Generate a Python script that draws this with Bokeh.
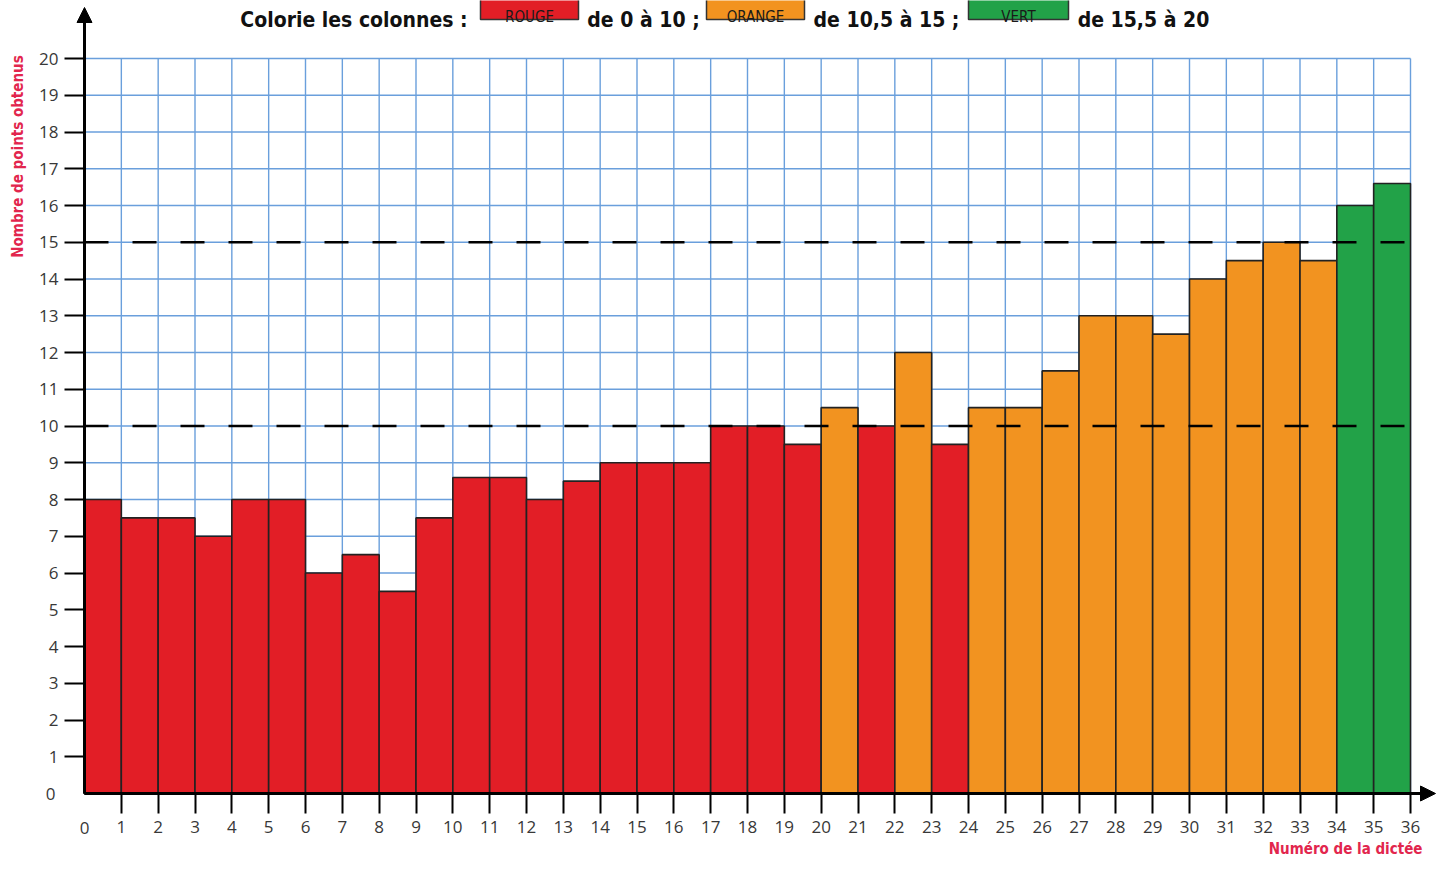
import math
from bokeh.plotting import figure
from bokeh.models import (ColumnDataSource, FixedTicker, Arrow, NormalHead, Range1d)
from bokeh.core.properties import value
from bokeh.embed import file_html
from bokeh.resources import INLINE

# ---- data ----
dictees = list(range(1, 37))
points = [8, 7.5, 7.5, 7, 8, 8, 6, 6.5, 5.5, 7.5,
          8.6, 8.6, 8, 8.5, 9, 9, 9, 10, 10, 9.5,
          10.5, 10, 12, 9.5, 10.5, 10.5, 11.5, 13, 13, 12.5,
          14, 14.5, 15, 14.5, 16, 16.6]
x_ticks = list(range(1, 37))
y_ticks = list(range(1, 21))
grid_x = list(range(0, 37))
grid_y = list(range(0, 21))
thresholds = [10, 15]
title_texts = ["Colorie les colonnes :", "de 0 à 10 ;", "de 10,5 à 15 ;", "de 15,5 à 20"]
box_texts = ["ROUGE", "ORANGE", "VERT"]
x_label = "Numéro de la dictée"
y_label = "Nombre de points obtenus"

RED, ORANGE, GREEN = "#e21e26", "#f29320", "#22a248"
box_colors = [RED, ORANGE, GREEN]


def colour(v):
    if v <= 10:
        return RED
    if v <= 15:
        return ORANGE
    return GREEN


# ---- pixel geometry helpers (layout only) ----
W, H = 1436, 856
X0PX, X36PX = 84, 1410
Y0PX, Y20PX = 793, 58
ux = (X36PX - X0PX) / 36.0
uy = (Y0PX - Y20PX) / 20.0


def dx(px):
    return (px - X0PX) / ux


def dy(py):
    return (Y0PX - py) / uy


p = figure(width=W, height=H, output_backend="svg", toolbar_location=None,
           x_range=Range1d(dx(0), dx(W)), y_range=Range1d(dy(H), dy(0)),
           min_border=0, min_border_left=0, min_border_right=0,
           min_border_top=0, min_border_bottom=0)
p.outline_line_color = None
p.background_fill_color = "white"
p.border_fill_color = "white"
p.xgrid.visible = False
p.ygrid.visible = False

XMAX, YMAX = max(grid_x), max(grid_y)

# grid
GRID_COL = "#6a9fdc"
p.segment(x0=grid_x, x1=grid_x, y0=[0] * len(grid_x), y1=[YMAX] * len(grid_x),
          line_color=GRID_COL, line_width=1.4)
p.segment(x0=[0] * len(grid_y), x1=[XMAX] * len(grid_y), y0=grid_y, y1=grid_y,
          line_color=GRID_COL, line_width=1.4)

# bars
src = ColumnDataSource(dict(
    left=[d - 1 for d in dictees],
    right=dictees,
    top=points,
    bottom=[0] * len(points),
    color=[colour(v) for v in points],
))
p.quad(left="left", right="right", top="top", bottom="bottom", source=src,
       fill_color="color", line_color="#222222", line_width=1.6)

# threshold lines
p.segment(x0=[0] * len(thresholds), x1=[XMAX] * len(thresholds),
          y0=thresholds, y1=thresholds, line_color="black",
          line_width=2.6, line_dash="24 24")

# axes at data 0
TICK_FONT = "Open Sans"
TICK_COL = "#383838"
for ax in (p.xaxis, p.yaxis):
    ax.fixed_location = 0
    ax.axis_line_width = 3
    ax.axis_line_color = "black"
    ax.major_tick_line_width = 2
    ax.major_tick_line_color = "black"
    ax.minor_tick_line_color = None
    ax.major_tick_in = 0
    ax.major_tick_out = 20
    ax.major_label_text_font = TICK_FONT
    ax.major_label_text_font_size = "17px"
    ax.major_label_text_color = TICK_COL
p.xaxis.bounds = (0, XMAX)
p.yaxis.bounds = (0, YMAX)
p.xaxis.ticker = FixedTicker(ticks=x_ticks)
p.yaxis.ticker = FixedTicker(ticks=y_ticks)
p.xaxis.major_label_standoff = 7
p.yaxis.major_label_standoff = 6

# zero labels (no tick mark at the origin)
p.text(x=[0, dx(50)], y=[dy(Y0PX + 34), 0], text=["0", "0"],
       text_font=value(TICK_FONT), text_font_size="17px", text_color=TICK_COL,
       text_align="center", text_baseline="middle")

# axis arrows
p.add_layout(Arrow(x_start=0, y_start=0, x_end=0, y_end=dy(7),
                   line_width=3, line_color="black",
                   end=NormalHead(size=15, fill_color="black", line_color="black",
                                  line_width=1)))
p.add_layout(Arrow(x_start=0, y_start=0, x_end=dx(1435), y_end=0,
                   line_width=3, line_color="black",
                   end=NormalHead(size=15, fill_color="black", line_color="black",
                                  line_width=1)))

NARROW = value("DejaVu Sans Condensed, Roboto, sans-serif")
LAB_COL = "#e2264d"
p.text(x=[dx(17)], y=[dy(156)], text=[y_label], angle=math.pi / 2,
       text_font=NARROW, text_font_style="bold", text_font_size="15px",
       text_color=LAB_COL, text_align="center", text_baseline="middle")
p.text(x=[dx(1422)], y=[dy(848)], text=[x_label],
       text_font=NARROW, text_font_style="bold", text_font_size="15px",
       text_color=LAB_COL, text_align="right", text_baseline="alphabetic")

# title line
BASE = 19
text_span = [(237, 470), (586, 700), (812, 960), (1076, 1210)]
p.text(x=[dx((a + b) / 2) for a, b in text_span], y=[dy(BASE)] * 4, text=title_texts,
       text_font=NARROW, text_font_style="bold", text_font_size="21px",
       text_color="#111111", text_align="center", text_baseline="alphabetic")
box_l = [480, 706, 968]
box_r = [578, 804, 1068]
p.quad(left=[dx(v) for v in box_l], right=[dx(v) for v in box_r],
       top=[dy(-3)] * 3, bottom=[dy(19)] * 3, fill_color=box_colors,
       line_color="#333333", line_width=1.5)
p.text(x=[dx((a + b) / 2) for a, b in zip(box_l, box_r)], y=[dy(16)] * 3,
       text=box_texts, text_font=NARROW, text_font_size="15px",
       text_color="#1a1a1a", text_align="center", text_baseline="alphabetic")

open("out.html", "w").write(file_html(p, INLINE))
